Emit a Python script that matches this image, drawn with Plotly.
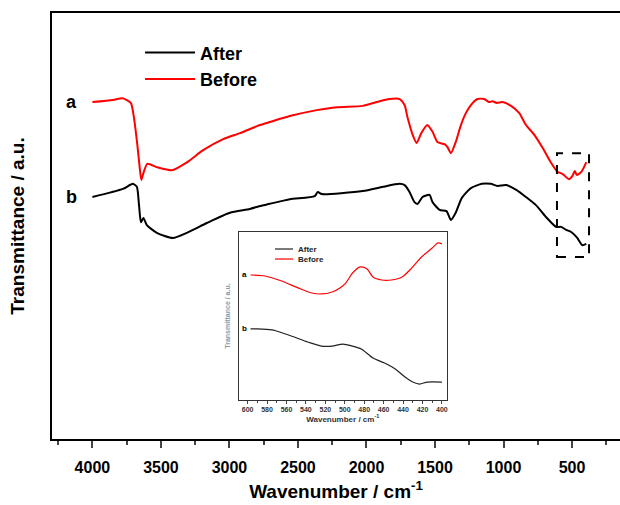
import plotly.graph_objects as go

# ---- FTIR spectra (wavenumber in cm^-1, transmittance in arbitrary units) ----
before_wn = [4000, 3850, 3780, 3720, 3700, 3672, 3657, 3643, 3628, 3600, 3527, 3418,
             3308, 3192, 3046, 2923, 2777, 2706, 2560, 2363, 2217, 2027, 1925, 1831,
             1758, 1722, 1700, 1663, 1634, 1600, 1556, 1518, 1482, 1431, 1409, 1384,
             1349, 1311, 1275, 1238, 1190, 1141, 1105, 1081, 1050, 1008, 945, 885,
             836, 775, 714, 652, 605, 568, 523, 498, 480, 466, 432, 396]
before_t = [79.1, 79.6, 80.0, 78.9, 76.1, 69.0, 64.3, 60.8, 62.4, 64.6, 63.8, 63.1,
            65.0, 67.8, 70.4, 71.8, 73.7, 74.4, 75.8, 77.2, 77.9, 78.2, 79.1, 79.8,
            79.8, 78.4, 75.4, 71.4, 69.5, 71.8, 73.7, 72.1, 69.7, 69.2, 68.5, 67.1,
            69.7, 73.7, 76.5, 78.4, 79.8, 79.8, 79.1, 79.3, 78.9, 79.1, 78.2, 76.5,
            73.7, 71.4, 68.3, 64.8, 62.7, 62.2, 61.0, 61.7, 62.9, 62.0, 62.7, 65.0]

after_wn = [4000, 3778, 3705, 3676, 3660, 3646, 3628, 3603, 3530, 3413, 3311, 3165,
            2997, 2852, 2777, 2706, 2560, 2378, 2356, 2327, 2027, 1880, 1758, 1722,
            1686, 1650, 1627, 1591, 1540, 1518, 1467, 1416, 1384, 1349, 1304, 1238,
            1158, 1093, 1044, 980, 907, 836, 763, 690, 617, 580, 543, 506, 462, 425, 396]
after_t = [56.8, 58.7, 59.9, 59.2, 54.9, 50.9, 51.9, 50.2, 48.4, 47.2, 48.4, 50.7,
           53.1, 54.0, 54.7, 55.2, 56.3, 57.0, 58.0, 57.5, 58.2, 59.2, 59.9, 59.6,
           58.0, 55.6, 55.2, 56.8, 57.3, 55.6, 53.8, 53.5, 51.4, 53.1, 56.6, 58.9,
           59.9, 59.9, 59.4, 59.6, 58.5, 56.8, 54.9, 52.1, 49.8, 49.8, 49.1, 48.6,
           47.2, 45.5, 45.8]

# ---- Zoomed low-wavenumber region (600-400 cm^-1) ----
zoom_before_wn = [597, 582, 565, 548, 534, 524, 513, 505, 499, 492, 484, 477, 471,
                  462, 452, 441, 431, 421, 410, 404, 400]
zoom_before_t = [74.4, 73.8, 70.8, 66.7, 63.7, 63.1, 64.3, 66.7, 69.6, 75.6, 79.2,
                 78.0, 73.2, 71.4, 71.4, 73.2, 78.6, 85.1, 90.5, 93.5, 92.9]
zoom_after_wn = [597, 590, 575, 564, 552, 538, 524, 513, 502, 492, 483, 471, 459,
                 448, 438, 430, 423, 415, 400]
zoom_after_t = [42.3, 42.3, 41.7, 39.9, 37.5, 34.5, 32.1, 32.1, 33.3, 32.1, 30.4,
                25.0, 22.0, 18.5, 13.7, 10.7, 9.5, 10.7, 10.7]

series_names = ["After", "Before"]
main_ticks = [4000, 3500, 3000, 2500, 2000, 1500, 1000, 500]
zoom_ticks = [600, 580, 560, 540, 520, 500, 480, 460, 440, 420, 400]

FONT = "Liberation Sans, Arial, sans-serif"
RED = "#ff0000"
BLACK = "#000000"
INSET_BLACK = "#222222"

fig = go.Figure()

# main spectra
fig.add_trace(go.Scatter(x=after_wn, y=after_t, mode="lines", name=series_names[0],
                         line=dict(color=BLACK, width=2, shape="spline", smoothing=0.6)))
fig.add_trace(go.Scatter(x=before_wn, y=before_t, mode="lines", name=series_names[1],
                         line=dict(color=RED, width=2, shape="spline", smoothing=0.6)))

# inset spectra
fig.add_trace(go.Scatter(x=zoom_after_wn, y=zoom_after_t, mode="lines", name=series_names[0],
                         line=dict(color=INSET_BLACK, width=1.2, shape="spline", smoothing=0.8),
                         xaxis="x2", yaxis="y2", showlegend=False))
fig.add_trace(go.Scatter(x=zoom_before_wn, y=zoom_before_t, mode="lines", name=series_names[1],
                         line=dict(color=RED, width=1.2, shape="spline", smoothing=0.8),
                         xaxis="x2", yaxis="y2", showlegend=False))

fig.update_layout(
    width=620, height=505,
    margin=dict(l=52, r=0, t=13, b=66),
    paper_bgcolor="white", plot_bgcolor="white",
    font=dict(family=FONT, color="black"),
    showlegend=True,
    xaxis=dict(
        range=[4295, 150], domain=[0, 1], automargin=False,
        tickvals=main_ticks, ticks="outside", ticklen=7, tickwidth=2,
        minor=dict(dtick=250, tick0=0, ticks="outside", ticklen=4, tickwidth=1.5),
        showline=True, linewidth=2, linecolor=BLACK, mirror=True,
        showgrid=False, zeroline=False,
        tickfont=dict(size=16, weight="bold"), ticklabelstandoff=6,
        title=dict(text="Wavenumber / cm<sup>-1</sup>", font=dict(size=19, weight="bold"),
                   standoff=9),
    ),
    yaxis=dict(
        range=[0, 100], domain=[0, 1], automargin=False,
        showticklabels=False, ticks="",
        showline=True, linewidth=2, linecolor=BLACK, mirror=False,
        showgrid=False, zeroline=False,
        title=dict(text="Transmittance / a.u.", font=dict(size=19, weight="bold"),
                   standoff=20),
    ),
    xaxis2=dict(
        anchor="y2", domain=[0.329, 0.695], range=[609, 395],
        tickvals=zoom_ticks, ticks="outside", ticklen=3, tickwidth=1,
        minor=dict(dtick=10, tick0=0, ticks="outside", ticklen=2, tickwidth=1),
        showline=True, linewidth=1, linecolor="#333333", mirror=True,
        showgrid=False, zeroline=False,
        tickfont=dict(size=7, color="#333333", weight="bold"),
        title=dict(text="Wavenumber / cm<sup>-1</sup>",
                   font=dict(size=8, color="#333333", weight="bold"), standoff=2),
    ),
    yaxis2=dict(
        anchor="x2", domain=[0.0915, 0.486], range=[0, 100],
        showticklabels=False, ticks="",
        showline=True, linewidth=1, linecolor="#333333", mirror=True,
        showgrid=False, zeroline=False,
        title=dict(text="Transmittance / a.u.",
                   font=dict(size=7, color="#8899aa", weight="bold"), standoff=6),
    ),
    legend=dict(
        x=0.155, y=0.950, xanchor="left", yanchor="top",
        bgcolor="rgba(0,0,0,0)", borderwidth=0, itemwidth=50,
        font=dict(size=18, weight="bold"), tracegroupgap=0,
    ),
)

# inset key: short line samples with labels
inset_key_colors = [INSET_BLACK, RED]
inset_key_y = [0.446, 0.4225]
for name, col, ky in zip(series_names, inset_key_colors, inset_key_y):
    fig.add_shape(type="line", xref="paper", yref="paper", x0=0.3926, x1=0.4243,
                  y0=ky, y1=ky, line=dict(color=col, width=1.2))
    fig.add_annotation(xref="paper", yref="paper", x=0.4296, y=ky, text=name,
                       showarrow=False, xanchor="left", yanchor="middle",
                       font=dict(size=8, weight="bold", color="#222222"))

# curve labels
fig.add_annotation(x=4150, y=before_t[0], text="a", showarrow=False,
                   font=dict(size=18, weight="bold"), xref="x", yref="y")
fig.add_annotation(x=4150, y=after_t[0], text="b", showarrow=False,
                   font=dict(size=18, weight="bold"), xref="x", yref="y")
fig.add_annotation(x=603, y=zoom_before_t[0], text="a", showarrow=False,
                   font=dict(size=8, weight="bold"), xref="x2", yref="y2")
fig.add_annotation(x=603, y=zoom_after_t[0], text="b", showarrow=False,
                   font=dict(size=8, weight="bold"), xref="x2", yref="y2")

# dashed box marking the magnified region
fig.add_shape(type="rect", xref="x", yref="y", x0=610, x1=376, y0=42.7, y1=67.1,
              line=dict(color=BLACK, width=2, dash="dash"))

fig.write_html("out.html")
